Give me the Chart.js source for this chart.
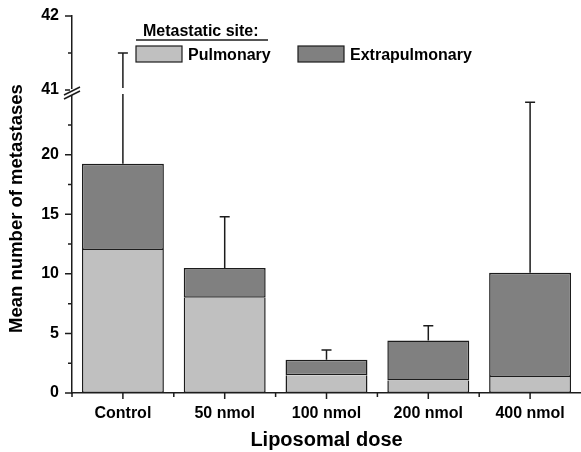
<!DOCTYPE html>
<html>
<head>
<meta charset="utf-8">
<script src="https://cdn.jsdelivr.net/npm/chart.js@4.4.1/dist/chart.umd.min.js"></script>
<style>
  html, body { margin: 0; padding: 0; background: #fff; }
  #wrap { width: 581px; height: 452px; }
</style>
</head>
<body>
<div id="wrap"><canvas id="chart"></canvas></div>
<script>
  const categories = ['Control', '50 nmol', '100 nmol', '200 nmol', '400 nmol'];
  const pulmonary = [12.0, 8.0, 1.5, 1.05, 1.35];
  const extrapulmonary = [7.25, 2.5, 1.3, 3.35, 8.75];
  const errorTop = [41.5, 14.8, 3.6, 5.65, 24.4];
  const lowerTicks = [0, 5, 10, 15, 20];
  const upperTicks = [41, 42];

  const ink = '#1c1c1c';
  const fontFamily = '"Liberation Sans", Arial, sans-serif';

  // draws error bars, tick marks, axis break, legend and y title
  const overlay = {
    id: 'overlay',
    afterDatasetsDraw(chart) {
      const ctx = chart.ctx;
      const xs = chart.scales.x, lo = chart.scales.y, hi = chart.scales.y2;
      ctx.save();
      ctx.strokeStyle = ink;
      ctx.lineWidth = 1.5;

      // error bars (upper only)
      categories.forEach((c, i) => {
        const x = xs.getPixelForValue(i);
        const top = lo.getPixelForValue(pulmonary[i] + extrapulmonary[i]);
        const e = errorTop[i];
        let capY;
        ctx.beginPath();
        if (e > lo.max) {
          capY = hi.getPixelForValue(e);
          ctx.moveTo(x, top); ctx.lineTo(x, lo.top + 4);
          ctx.moveTo(x, hi.bottom - 2); ctx.lineTo(x, capY);
        } else {
          capY = lo.getPixelForValue(e);
          ctx.moveTo(x, top); ctx.lineTo(x, capY);
        }
        ctx.moveTo(x - 5, capY); ctx.lineTo(x + 5, capY);
        ctx.stroke();
      });

      // y tick marks
      const ax = lo.right;
      ctx.beginPath();
      const yTick = (y, len) => { ctx.moveTo(ax, y); ctx.lineTo(ax - len, y); };
      lowerTicks.forEach(v => {
        yTick(lo.getPixelForValue(v), 7);
        yTick(lo.getPixelForValue(v + 2.5), 4);
      });
      yTick(hi.getPixelForValue(upperTicks[0]), 7);
      yTick(hi.getPixelForValue((upperTicks[0] + upperTicks[1]) / 2), 4);
      yTick(hi.getPixelForValue(upperTicks[1]), 7);

      // x tick marks
      const half = (xs.getPixelForValue(1) - xs.getPixelForValue(0)) / 2;
      categories.forEach((c, i) => {
        const x = xs.getPixelForValue(i);
        ctx.moveTo(x, xs.top); ctx.lineTo(x, xs.top + 6);
        ctx.moveTo(x - half, xs.top); ctx.lineTo(x - half, xs.top + 4);
      });
      ctx.stroke();

      // axis break
      const by = lo.top;
      ctx.fillStyle = '#fff';
      ctx.fillRect(ax - 2, by - 1, 4, 6);
      ctx.beginPath();
      ctx.moveTo(ax - 8, by + 5); ctx.lineTo(ax + 8, by - 3);
      ctx.moveTo(ax - 8, by + 9); ctx.lineTo(ax + 8, by + 1);
      ctx.stroke();

      // legend
      const ds = chart.data.datasets;
      ctx.fillStyle = '#000';
      ctx.font = 'bold 16px ' + fontFamily;
      ctx.textBaseline = 'alphabetic';
      ctx.textAlign = 'left';
      ctx.fillText('Metastatic site:', 143, 35.5);
      ctx.beginPath();
      ctx.moveTo(136, 40); ctx.lineTo(268, 40);
      ctx.stroke();
      const boxes = [[136, 188], [298, 350]];
      ds.forEach((d, k) => {
        const [bx, tx] = boxes[k];
        ctx.fillStyle = d.backgroundColor;
        ctx.fillRect(bx, 46, 46, 16);
        ctx.lineWidth = 1.2;
        ctx.strokeRect(bx, 46, 46, 16);
        ctx.fillStyle = '#000';
        ctx.fillText(d.label, tx, 60);
      });

      // y axis title
      ctx.save();
      ctx.translate(17, (hi.top + lo.bottom) / 2 + 4);
      ctx.rotate(-Math.PI / 2);
      ctx.textAlign = 'center';
      ctx.textBaseline = 'middle';
      ctx.font = 'bold 18.5px ' + fontFamily;
      ctx.fillText('Mean number of metastases', 0, 0);
      ctx.restore();

      ctx.restore();
    }
  };

  const tickFont = { family: fontFamily, size: 16, weight: 'bold' };
  const fitY = (s) => { s.width = 72; s.paddingTop = 0; s.paddingBottom = 0; };

  new Chart(document.getElementById('chart'), {
    type: 'bar',
    data: {
      labels: categories,
      datasets: [
        {
          label: 'Pulmonary', data: pulmonary, yAxisID: 'y',
          backgroundColor: '#c0c0c0', borderColor: ink, borderSkipped: false,
          borderWidth: { top: 0, left: 1.5, right: 1.5, bottom: 1.5 },
          barPercentage: 0.805, categoryPercentage: 1
        },
        {
          label: 'Extrapulmonary', data: extrapulmonary, yAxisID: 'y',
          backgroundColor: '#808080', borderColor: ink, borderWidth: 1.5, borderSkipped: false,
          barPercentage: 0.805, categoryPercentage: 1
        }
      ]
    },
    options: {
      responsive: true,
      maintainAspectRatio: false,
      animation: false,
      layout: { padding: { top: 16, right: 0, left: 0, bottom: 0 } },
      plugins: { legend: { display: false }, tooltip: { enabled: false } },
      scales: {
        x: {
          stacked: true,
          grid: { display: false, drawTicks: false },
          border: { color: ink, width: 1.5 },
          ticks: { font: tickFont, color: '#000', padding: 11 },
          title: { display: true, text: 'Liposomal dose', color: '#000', padding: 0,
                   font: { family: fontFamily, size: 20, weight: 'bold' } },
          afterFit: (s) => { s.height = 59; s.paddingLeft = 0; s.paddingRight = 0; }
        },
        y: {
          type: 'linear', position: 'left', stack: 'broken', stackWeight: 303,
          stacked: true, min: 0, max: 25.43,
          grid: { display: false, drawTicks: false },
          border: { color: ink, width: 1.5 },
          ticks: {
            stepSize: 5, includeBounds: false, font: tickFont, color: '#000', padding: 13,
            callback: (v) => lowerTicks.includes(v) ? String(v) : ''
          },
          afterFit: fitY
        },
        y2: {
          type: 'linear', position: 'left', stack: 'broken', stackWeight: 74,
          min: 41, max: 42,
          grid: { display: false, drawTicks: false },
          border: { color: ink, width: 1.5 },
          ticks: {
            stepSize: 1, font: tickFont, color: '#000', padding: 13,
            callback: (v) => upperTicks.includes(v) ? String(v) : ''
          },
          afterFit: fitY
        }
      }
    },
    plugins: [overlay]
  });
</script>
</body>
</html>
